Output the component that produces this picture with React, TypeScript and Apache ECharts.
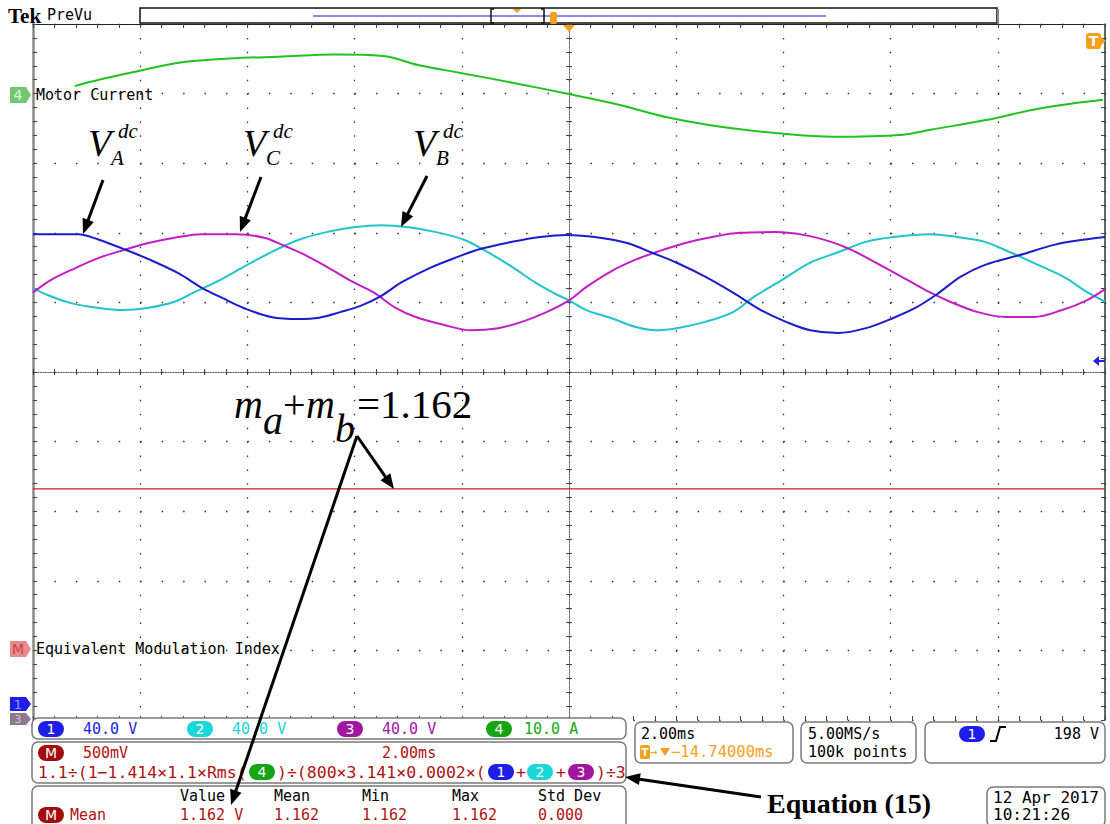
import React, { useEffect, useRef } from "react";
import * as echarts from "echarts";

// Time in ms relative to the screen centre (2 ms/div), values in screen divisions (+5 top, -5 bottom)
const ch1Blue: number[][] = [
  [-10, 1.98], [-9.16, 1.98], [-8.77, 1.9], [-8.32, 1.77], [-7.81, 1.61], [-7.29, 1.42], [-6.85, 1.21],
  [-6.46, 1.06], [-6.07, 0.92], [-5.56, 0.79], [-5.04, 0.76], [-4.66, 0.78], [-4.27, 0.86], [-3.89, 0.95],
  [-3.51, 1.09], [-3.12, 1.29], [-2.61, 1.49], [-2.09, 1.65], [-1.64, 1.77], [-1.06, 1.87], [-0.54, 1.94],
  [-0.04, 1.97], [0.58, 1.93], [1.1, 1.85], [1.56, 1.71], [2.01, 1.57], [2.54, 1.37], [3.06, 1.14],
  [3.58, 0.89], [4.05, 0.72], [4.5, 0.6], [5.02, 0.56], [5.54, 0.63], [6.06, 0.78], [6.46, 0.92],
  [6.85, 1.11], [7.31, 1.37], [7.76, 1.54], [8.41, 1.68], [9.07, 1.83], [9.59, 1.9], [10, 1.94],
];
const ch2Cyan: number[][] = [
  [-10, 1.21], [-9.74, 1.11], [-9.29, 0.99], [-8.77, 0.92], [-8.32, 0.89], [-7.87, 0.92], [-7.36, 1.01],
  [-6.98, 1.15], [-6.59, 1.29], [-6.07, 1.51], [-5.56, 1.72], [-5.04, 1.9], [-4.53, 2.01], [-4.02, 2.08],
  [-3.51, 2.11], [-2.99, 2.08], [-2.48, 2.01], [-1.96, 1.9], [-1.58, 1.75], [-1.06, 1.51], [-0.62, 1.28],
  [-0.22, 1.11], [0, 1.03], [0.32, 0.89], [0.77, 0.78], [1.23, 0.65], [1.62, 0.6], [2.01, 0.63],
  [2.54, 0.72], [3.06, 0.86], [3.45, 1.08], [3.97, 1.32], [4.5, 1.57], [5.02, 1.72], [5.54, 1.87],
  [6.06, 1.94], [6.72, 1.98], [7.24, 1.94], [7.76, 1.87], [8.23, 1.72], [8.75, 1.54], [9.27, 1.35],
  [9.66, 1.15], [10, 1.01],
];
const ch3Magenta: number[][] = [
  [-10, 1.14], [-9.67, 1.32], [-9.22, 1.49], [-8.77, 1.64], [-8.32, 1.75], [-7.87, 1.85], [-7.36, 1.93],
  [-6.85, 1.98], [-6.2, 1.98], [-5.69, 1.93], [-5.3, 1.81], [-4.92, 1.68], [-4.47, 1.49], [-4.02, 1.29],
  [-3.64, 1.14], [-3.25, 0.93], [-2.86, 0.79], [-2.35, 0.68], [-1.83, 0.6], [-1.32, 0.63], [-0.88, 0.72],
  [-0.42, 0.86], [0, 1.03], [0.32, 1.22], [0.77, 1.44], [1.23, 1.61], [1.62, 1.72], [2.15, 1.85],
  [2.67, 1.94], [3.19, 2.0], [3.84, 2.01], [4.37, 1.97], [4.89, 1.87], [5.28, 1.75], [5.8, 1.54],
  [6.32, 1.32], [6.72, 1.15], [7.11, 1.01], [7.63, 0.86], [8.15, 0.79], [8.68, 0.79], [9.2, 0.89],
  [9.66, 1.03], [10, 1.19],
];
const ch4Green: number[][] = [
  [-9.22, 4.11], [-8.77, 4.2], [-8.12, 4.31], [-7.22, 4.45], [-6.18, 4.51], [-5.41, 4.53], [-4.37, 4.56],
  [-3.47, 4.54], [-2.82, 4.41], [-2.05, 4.3], [-1.01, 4.15], [0.02, 3.99], [0.93, 3.84], [1.83, 3.66],
  [2.86, 3.52], [3.9, 3.43], [4.93, 3.38], [6.23, 3.41], [6.74, 3.48], [7.78, 3.62], [8.81, 3.79],
  [9.96, 3.91],
];
const mathMean: number[][] = [[-10, -1.68], [10, -1.68]];

const channelScales = ["40.0 V", "40.0 V", "40.0 V", "10.0 A"];
const measHeaders = ["Value", "Mean", "Min", "Max", "Std Dev"];
const measValues = ["1.162 V", "1.162", "1.162", "1.162", "0.000"];

const C1 = "#1c1ccc";
const C2 = "#22c4c8";
const C3 = "#c21ec6";
const C4 = "#20c420";
const CM = "#c42020";
const P1 = "#1e1ee8";
const P2 = "#1ad6da";
const P3 = "#a0169e";
const P4 = "#14a414";
const PM = "#a20c0c";
const T1 = "#2222e6";
const T2 = "#18d2d6";
const T3 = "#a214a6";
const T4 = "#14a814";
const TR = "#b01212";
const OR = "#f5a01a";
const MONO = "DejaVu Sans Mono";
const SERIF = "Liberation Serif";
const Z = 50;

function T(x: number, y: number, text: string, o: any = {}) {
  const style: any = {
    text,
    fill: o.color ?? "#000",
    fontSize: o.size ?? 15,
    fontFamily: o.family ?? MONO,
    fontStyle: o.italic ? "italic" : "normal",
    fontWeight: o.bold ? "bold" : "normal",
    textAlign: o.align ?? "left",
    textVerticalAlign: "middle",
  };
  if (o.width) {
    style.width = o.width;
    style.overflow = "truncate";
    style.ellipsis = "";
  }
  return { type: "text", x, y, z: o.z ?? Z + 2, silent: true, style };
}
function box(x: number, y: number, w: number, h: number, r = 6) {
  return { type: "rect", z: Z, silent: true, shape: { x, y, width: w, height: h, r }, style: { fill: "#fff", stroke: "#7a7a7a", lineWidth: 1.5 } };
}
function pill(x: number, y: number, label: string, color: string) {
  return [
    { type: "rect", z: Z + 1, silent: true, shape: { x, y: y - 8, width: 26, height: 16, r: 8 }, style: { fill: color } },
    T(x + 13, y, label, { color: "#fff", align: "center", size: 14, family: "DejaVu Sans" }),
  ];
}
function arrow(x1: number, y1: number, x2: number, y2: number) {
  const dx = x2 - x1, dy = y2 - y1, L = Math.hypot(dx, dy), ux = dx / L, uy = dy / L;
  const hl = 15, hw = 6;
  const bx = x2 - ux * hl, by = y2 - uy * hl;
  return [
    { type: "line", z: 60, silent: true, shape: { x1, y1, x2: bx + ux * 2, y2: by + uy * 2 }, style: { stroke: "#000", lineWidth: 3 } },
    { type: "polygon", z: 60, silent: true, shape: { points: [[x2, y2], [bx - uy * hw, by + ux * hw], [bx + uy * hw, by - ux * hw]] }, style: { fill: "#000" } },
  ];
}
function marker(y: number, label: string, fill: string, textColor: string, h = 8, size = 14) {
  return [
    { type: "polygon", z: Z + 1, silent: true, shape: { points: [[10, y - h], [26, y - h], [31, y], [26, y + h], [10, y + h]] }, style: { fill } },
    T(18, y, label, { color: textColor, align: "center", size, family: "DejaVu Sans" }),
  ];
}

function buildGraphics() {
  const g: any[] = [];
  // header
  g.push(T(8, 16, "Tek", { family: SERIF, bold: true, size: 21 }));
  g.push(T(47, 15, "PreVu", { size: 15 }));
  g.push({ type: "rect", z: Z, silent: true, shape: { x: 140, y: 8, width: 857, height: 15 }, style: { fill: "#fff", stroke: "#111", lineWidth: 1.5 } });
  g.push({ type: "line", z: Z, silent: true, shape: { x1: 998, y1: 9, x2: 998, y2: 24 }, style: { stroke: "#888", lineWidth: 2 } });
  g.push({ type: "line", z: Z + 1, silent: true, shape: { x1: 313, y1: 16, x2: 826, y2: 16 }, style: { stroke: "#8a8af5", lineWidth: 2 } });
  g.push({ type: "polyline", z: Z + 2, silent: true, shape: { points: [[494, 9], [491, 9], [491, 23], [494, 23]] }, style: { stroke: "#111", lineWidth: 1.5, fill: null } });
  g.push({ type: "polyline", z: Z + 2, silent: true, shape: { points: [[541, 9], [544, 9], [544, 23], [541, 23]] }, style: { stroke: "#111", lineWidth: 1.5, fill: null } });
  g.push({ type: "polygon", z: Z + 2, silent: true, shape: { points: [[513, 9], [521, 9], [517, 13]] }, style: { fill: OR } });
  g.push({ type: "rect", z: Z + 2, silent: true, shape: { x: 550, y: 12, width: 7, height: 12, r: 2 }, style: { fill: OR } });
  g.push({ type: "polygon", z: Z + 2, silent: true, shape: { points: [[563, 25], [575, 25], [569, 32]] }, style: { fill: OR } });
  // right T marker
  g.push({ type: "rect", z: Z + 1, silent: true, shape: { x: 1086, y: 33, width: 15, height: 16, r: 3 }, style: { fill: OR } });
  g.push({ type: "polygon", z: Z + 1, silent: true, shape: { points: [[1101, 37], [1106, 41], [1101, 45]] }, style: { fill: OR } });
  g.push(T(1093.5, 41, "T", { color: "#fff", bold: true, align: "center", size: 14, family: "DejaVu Sans" }));
  // trigger level arrow
  g.push({ type: "polygon", z: Z + 1, silent: true, shape: { points: [[1093, 361], [1099, 356], [1099, 366]] }, style: { fill: P1 } });
  g.push({ type: "line", z: Z + 1, silent: true, shape: { x1: 1099, y1: 361, x2: 1105, y2: 361 }, style: { stroke: P1, lineWidth: 2 } });
  // left markers and labels
  g.push(...marker(95, "4", "#72c872", "#e0f6e0"));
  g.push(...marker(649, "M", "#e98a8a", "#c04848"));
  g.push(...marker(704, "1", P1, "#9a9aff", 7, 13));
  g.push(...marker(719, "3", "#8c7a8c", "#dcc0dc", 6, 11));
  g.push(T(36, 95, "Motor Current"));
  g.push(T(36, 649, "Equivalent Modulation Index"));
  // V annotations
  const vAnn = [[88, "A"], [243, "C"], [413, "B"]] as [number, string][];
  vAnn.forEach(([x, s]) => {
    g.push(T(x, 143, "V", { family: SERIF, italic: true, size: 38 }));
    g.push(T(x + 30, 131, "dc", { family: SERIF, italic: true, size: 21 }));
    g.push(T(x + 23, 158, s, { family: SERIF, italic: true, size: 21 }));
  });
  // m_a + m_b = 1.162
  g.push(T(234, 404, "m", { family: SERIF, italic: true, size: 40 }));
  g.push(T(263, 420, "a", { family: SERIF, italic: true, size: 40 }));
  g.push(T(283, 404, "+", { family: SERIF, size: 40 }));
  g.push(T(306, 404, "m", { family: SERIF, italic: true, size: 40 }));
  g.push(T(335, 428, "b", { family: SERIF, italic: true, size: 40 }));
  g.push(T(357, 404, "=1.162", { family: SERIF, size: 41 }));
  // readout boxes
  g.push(box(32, 718, 594, 21));
  g.push(box(32, 742, 594, 41));
  g.push(box(32, 786, 594, 44));
  g.push(box(635, 722, 158, 41));
  g.push(box(801, 722, 115, 41));
  g.push(box(925, 722, 180, 41));
  g.push(box(987, 787, 118, 40));
  // channel scales
  const scaleX = [38, 187, 337, 486];
  const pillCols = [P1, P2, P3, P4];
  const txtCols = [T1, T2, T3, T4];
  channelScales.forEach((s, i) => {
    g.push(...pill(scaleX[i], 729, String(i + 1), pillCols[i]));
    g.push(T(scaleX[i] + (i === 3 ? 38 : 45), 729, s, { color: txtCols[i] }));
  });
  // math box
  g.push(...pill(38, 753, "M", PM));
  g.push(T(83, 753, "500mV", { color: TR }));
  g.push(T(382, 753, "2.00ms", { color: TR }));
  g.push(T(38, 772, "1.1÷(1−1.414×1.1×Rms(", { color: TR, size: 16.5 }));
  g.push(...pill(249, 772, "4", P4));
  g.push(T(277, 772, ")÷(800×3.141×0.0002×(", { color: TR, size: 16.5 }));
  g.push(...pill(488, 772, "1", P1));
  g.push(T(516, 772, "+", { color: TR, size: 16.5 }));
  g.push(...pill(527, 772, "2", P2));
  g.push(T(556, 772, "+", { color: TR, size: 16.5 }));
  g.push(...pill(568, 772, "3", P3));
  g.push(T(596, 772, ")÷3", { color: TR, size: 16.5 }));
  // measurement box
  const measX = [180, 274, 362, 452, 538];
  measHeaders.forEach((h, i) => g.push(T(measX[i], 796, h)));
  g.push(...pill(38, 815, "M", PM));
  g.push(T(70, 815, "Mean", { color: TR }));
  measValues.forEach((v, i) => g.push(T(measX[i], 815, v, { color: TR })));
  // timebase box
  g.push(T(641, 734, "2.00ms"));
  g.push({ type: "rect", z: Z + 1, silent: true, shape: { x: 640, y: 745, width: 10, height: 14, r: 2 }, style: { fill: OR } });
  g.push(T(645, 752, "T", { color: "#fff", bold: true, align: "center", size: 11, family: "DejaVu Sans" }));
  g.push(T(650, 752, "→", { color: OR, size: 12 }));
  g.push({ type: "polygon", z: Z + 1, silent: true, shape: { points: [[660, 748], [670, 748], [665, 756]] }, style: { fill: OR } });
  g.push(T(671, 752, "−14.74000ms", { color: OR, size: 15.5, width: 120 }));
  g.push(T(808, 734, "5.00MS/s"));
  g.push(T(808, 752, "100k points"));
  g.push(...pill(959, 734, "1", P1));
  g.push({ type: "polyline", z: Z + 1, silent: true, shape: { points: [[990, 741], [996, 741], [1000, 727], [1006, 727]] }, style: { stroke: "#000", lineWidth: 2, fill: null } });
  g.push(T(1099, 734, "198 V", { align: "right" }));
  g.push(T(993, 797, "12 Apr 2017", { size: 16 }));
  g.push(T(993, 814, "10:21:26", { size: 16 }));
  g.push(T(767, 803, "Equation (15)", { family: SERIF, bold: true, size: 28 }));
  // annotation arrows
  g.push(...arrow(103, 180, 83, 234));
  g.push(...arrow(261, 177, 240, 232));
  g.push(...arrow(427, 176, 401, 227));
  g.push(...arrow(357, 436, 394, 489));
  g.push(...arrow(357, 436, 231, 805));
  g.push(...arrow(761, 797, 625, 777));
  return g;
}

const tickStyle = { color: "#444", width: 1 };
function baseAxis(extra: any) {
  return {
    type: "value",
    axisLabel: { show: false },
    splitLine: { show: false },
    minorSplitLine: { show: false },
    ...extra,
  };
}

export default function App() {
  const ref = useRef<HTMLDivElement>(null);
  useEffect(() => {
    if (!ref.current) return;
    const chart = echarts.init(ref.current, undefined, { renderer: "svg" });
    const xCommon = { min: -10, max: 10, interval: 2 };
    const yCommon = { min: -5, max: 5, interval: 1 };
    const centerLine = { color: "#666", width: 1, type: [1, 1.5] };
    const option: any = {
      animation: false,
      backgroundColor: "#fff",
      grid: { left: 33, top: 24, width: 1072, height: 696, outerBoundsMode: "none", containLabel: false },
      xAxis: [
        baseAxis({
          ...xCommon, position: "bottom",
          axisLine: { show: true, onZero: true, lineStyle: centerLine },
          axisTick: { show: true, length: 3, lineStyle: tickStyle },
          minorTick: { show: true, splitNumber: 5, length: 3, lineStyle: tickStyle },
          splitLine: { show: true, lineStyle: { color: "#333", width: 1.3, type: [1.5, 12.42] } },
        }),
        baseAxis({
          ...xCommon, position: "top",
          axisLine: { show: true, onZero: true, onZeroAxisIndex: 0, lineStyle: centerLine },
          axisTick: { show: true, length: 3, lineStyle: tickStyle },
          minorTick: { show: true, splitNumber: 5, length: 3, lineStyle: tickStyle },
        }),
        baseAxis({
          ...xCommon, position: "top",
          axisLine: { show: true, onZero: false, lineStyle: { color: "#222", width: 1 } },
          axisTick: { show: true, inside: true, length: 4, lineStyle: tickStyle },
          minorTick: { show: true, splitNumber: 5, length: 4, lineStyle: tickStyle },
        }),
        baseAxis({
          ...xCommon, position: "bottom",
          axisLine: { show: false, onZero: false },
          axisTick: { show: true, inside: true, length: 4, lineStyle: tickStyle },
          minorTick: { show: true, splitNumber: 5, length: 4, lineStyle: tickStyle },
        }),
      ],
      yAxis: [
        baseAxis({
          ...yCommon, position: "left",
          axisLine: { show: true, onZero: true, lineStyle: centerLine },
          axisTick: { show: true, length: 3, lineStyle: tickStyle },
          minorTick: { show: true, splitNumber: 5, length: 3, lineStyle: tickStyle },
          splitLine: { show: true, lineStyle: { color: "#333", width: 1.3, type: [1.5, 19.94] } },
        }),
        baseAxis({
          ...yCommon, position: "right",
          axisLine: { show: true, onZero: true, onZeroAxisIndex: 0, lineStyle: centerLine },
          axisTick: { show: true, length: 3, lineStyle: tickStyle },
          minorTick: { show: true, splitNumber: 5, length: 3, lineStyle: tickStyle },
        }),
        baseAxis({
          ...yCommon, position: "left",
          axisLine: { show: true, onZero: false, lineStyle: { color: "#8a8a8a", width: 2.5 } },
          axisTick: { show: true, inside: true, length: 4, lineStyle: tickStyle },
          minorTick: { show: true, splitNumber: 5, length: 4, lineStyle: tickStyle },
        }),
        baseAxis({
          ...yCommon, position: "right",
          axisLine: { show: true, onZero: false, lineStyle: { color: "#333", width: 1.5 } },
          axisTick: { show: true, inside: true, length: 4, lineStyle: tickStyle },
          minorTick: { show: true, splitNumber: 5, length: 4, lineStyle: tickStyle },
        }),
      ],
      series: [
        { name: "Ch4", type: "line", data: ch4Green, color: C4 },
        { name: "Ch2", type: "line", data: ch2Cyan, color: C2 },
        { name: "Ch3", type: "line", data: ch3Magenta, color: C3 },
        { name: "Ch1", type: "line", data: ch1Blue, color: C1 },
        { name: "Math", type: "line", data: mathMean, color: CM, lineStyle: { width: 1.3 } },
      ].map((s: any) => ({
        xAxisIndex: 0, yAxisIndex: 0, showSymbol: false, symbol: "none", smooth: 0.35, silent: true, z: 3,
        ...s,
        lineStyle: { width: 2, color: s.color, ...(s.lineStyle || {}) },
      })),
      graphic: { elements: buildGraphics() },
    };
    chart.setOption(option);
    return () => chart.dispose();
  }, []);
  return (
    <div
      ref={ref}
      style={{ position: "absolute", left: 0, top: 0, width: 1110, height: 824, background: "#fff" }}
    />
  );
}
